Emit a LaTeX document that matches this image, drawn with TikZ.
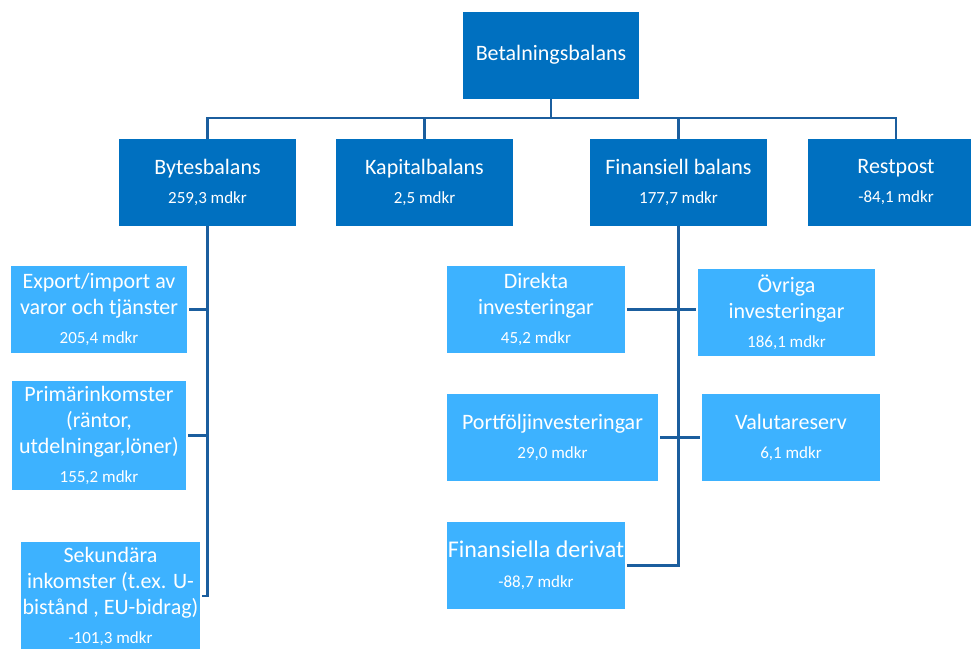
\documentclass[tikz,border=0pt]{standalone}
\usepackage{fontspec}
\setmainfont{Carlito}
\usepackage{tikz}
\usetikzlibrary{positioning,calc}
\definecolor{balblue}{HTML}{0070C0}
\definecolor{balsky}{HTML}{3DB2FF}
\definecolor{balline}{HTML}{1B5E9E}
\newcommand{\mdkr}[1]{\\[3pt]{\fontsize{17}{19}\selectfont #1 mdkr}}

\begin{document}
\begin{tikzpicture}[x=1pt, y=-1pt,
    main/.style={rectangle, fill=balblue, text=white, minimum width=177pt, minimum height=87pt, align=center, inner sep=0pt, font=\fontsize{22}{26}\selectfont},
    sub/.style={main, fill=balsky},
    link/.style={draw=balline, line width=2.2pt}
]
    \useasboundingbox (0,0) rectangle (971,648);

    % Top
    \node (bal) [main, minimum width=176pt] at (551,55) {Betalningsbalans};

    % Level 1
    \node (byte) [main] at (207.5,182.5) {Bytesbalans\mdkr{259,3}};
    \node (kap) [main] at (424.5,182.5) {Kapitalbalans\mdkr{2,5}};
    \node (fin) [main] at (678.5,182.5) {Finansiell balans\mdkr{177,7}};
    \node (rest) [main] at (896,182.5) {Restpost\mdkr{-84,1}};

    % Bytesbalans parts
    \node (exp) [sub, minimum width=176pt] at (99,309.5) {Export/import av\\varor och tjänster\mdkr{205,4}};
    \node (prim) [sub, minimum width=174pt, minimum height=109pt] at (99,435.5) {Primärinkomster\\(räntor,\\utdelningar,löner)\mdkr{155,2}};
    \node (sek) [sub, minimum width=179pt, minimum height=108pt] at (110.5,596) {Sekundära\\inkomster (t.ex. U-\\bistånd , EU-bidrag)\mdkr{-101,3}};

    % Finansiell balans parts
    \node (dir) [sub, minimum width=178pt] at (536,309.5) {Direkta\\investeringar\mdkr{45,2}};
    \node (ovr) [sub] at (786.5,312) {Övriga\\investeringar\mdkr{186,1}};
    \node (port) [sub, minimum width=211pt] at (552.5,437.5) {Portföljinvesteringar\mdkr{29,0}};
    \node (val) [sub, minimum width=178pt] at (791,437) {Valutareserv\mdkr{6,1}};
    \node (der) [sub, minimum width=178pt, font=\fontsize{24}{27}\selectfont] at (536,565.5) {Finansiella derivat\mdkr{-88,7}};

    % Connectors
    \coordinate (hub) at (551,118);
    \draw[link] (bal.south) -- (hub);
    \foreach \n in {byte,kap,fin,rest}
        \draw[link] (hub) -| (\n.north);

    \draw[link] (byte.south) |- ([xshift=2pt]sek.east);
    \draw[link] ([xshift=2pt]exp.east) -- (exp.east -| byte.south);
    \draw[link] ([xshift=2pt]prim.east) -- (prim.east -| byte.south);

    \draw[link] (fin.south) |- ([xshift=2pt]der.east);
    \draw[link] ([xshift=2pt]dir.east) -- ([xshift=-2pt]dir.east -| ovr.west);
    \draw[link] ([xshift=2pt]port.east) -- ([xshift=-2pt]port.east -| val.west);
\end{tikzpicture}
\end{document}
